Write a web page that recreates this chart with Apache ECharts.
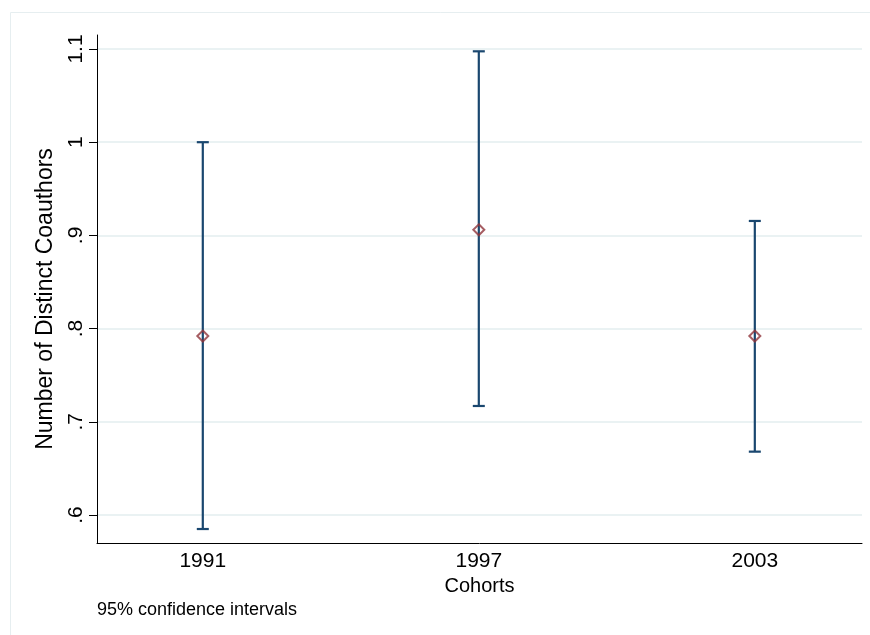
<!DOCTYPE html>
<html>
<head>
<meta charset="utf-8">
<script src="https://cdn.jsdelivr.net/npm/echarts@6/dist/echarts.min.js"></script>
<style>html,body{margin:0;padding:0;background:#fff;}#c{width:870px;height:635px;}</style>
</head>
<body>
<div id="c"></div>
<script>
const cohorts = [1991, 1997, 2003];
const means = [0.792, 0.906, 0.792];
const lower = [0.585, 0.717, 0.668];
const upper = [1.000, 1.0975, 0.9155];
const yTicks = [0.6, 0.7, 0.8, 0.9, 1.0, 1.1];
const yTickLabels = ['.6', '.7', '.8', '.9', '1', '1.1'];

const font = 'Liberation Sans, Arial, sans-serif';
const chart = echarts.init(document.getElementById('c'), null, {renderer: 'canvas'});

const ciData = cohorts.map((c, i) => [c, lower[i], upper[i]]);
const meanData = cohorts.map((c, i) => [c, means[i]]);

chart.setOption({
  animation: false,
  backgroundColor: '#ffffff',
  grid: {left: 97, right: 8, top: 35, bottom: 92, containLabel: false},
  graphic: [
    {type: 'rect', shape: {x: 10.5, y: 12.5, width: 900, height: 700},
     style: {fill: null, stroke: '#e6eef0', lineWidth: 1}, silent: true, z: -10},
    {type: 'text', left: 97, top: 601,
     style: {text: '95% confidence intervals', fontSize: 18, fontFamily: font, fill: '#000'}}
  ],
  xAxis: {
    type: 'value', min: 1988.7, max: 2005.33,
    name: 'Cohorts', nameLocation: 'middle', nameGap: 23,
    nameTextStyle: {fontSize: 20, fontFamily: font, color: '#000'},
    axisLine: {show: true, lineStyle: {color: '#000', width: 1}},
    axisTick: {show: false},
    splitLine: {show: false},
    axisLabel: {customValues: cohorts, formatter: v => String(v), fontSize: 21,
                fontFamily: font, color: '#000', margin: 8}
  },
  yAxis: {
    type: 'value', min: 0.57, max: 1.115,
    name: 'Number of Distinct Coauthors', nameLocation: 'middle', nameGap: 40,
    nameTextStyle: {fontSize: 23, fontFamily: font, color: '#000', padding: [0, 20, 0, 0]},
    axisLine: {show: true, lineStyle: {color: '#000', width: 1}},
    axisTick: {show: true, customValues: yTicks, length: 8, lineStyle: {color: '#000'}},
    splitLine: {show: true, customValues: yTicks, lineStyle: {color: '#eaf2f3', width: 2}},
    axisLabel: {customValues: yTicks, rotate: 90, fontSize: 21, fontFamily: font, color: '#000', margin: 10,
                formatter: v => { const i = yTicks.findIndex(t => Math.abs(t - v) < 1e-6); return i >= 0 ? yTickLabels[i] : ''; }}
  },
  series: [
    {
      type: 'custom',
      data: ciData,
      encode: {x: 0, y: [1, 2]},
      renderItem: function (params, api) {
        const x = api.value(0);
        const lo = api.coord([x, api.value(1)]);
        const hi = api.coord([x, api.value(2)]);
        const hw = 6;
        const st = {stroke: '#1a476f', lineWidth: 2.2, fill: null};
        return {type: 'group', children: [
          {type: 'line', shape: {x1: lo[0], y1: lo[1], x2: hi[0], y2: hi[1]}, style: st},
          {type: 'line', shape: {x1: lo[0] - hw, y1: lo[1], x2: lo[0] + hw, y2: lo[1]}, style: st},
          {type: 'line', shape: {x1: hi[0] - hw, y1: hi[1], x2: hi[0] + hw, y2: hi[1]}, style: st}
        ]};
      },
      z: 2
    },
    {
      type: 'scatter',
      data: meanData,
      symbol: 'diamond',
      symbolSize: 11,
      itemStyle: {color: 'rgba(0,0,0,0)', borderColor: '#90353b', borderWidth: 2},
      z: 3
    }
  ]
});
</script>
</body>
</html>
